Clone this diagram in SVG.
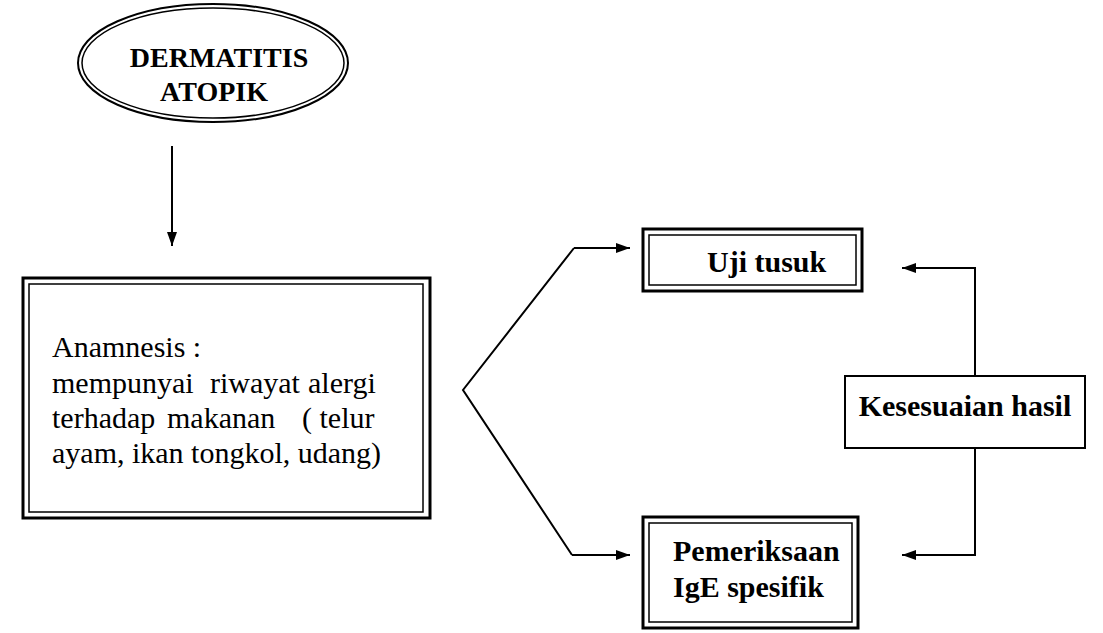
<svg xmlns="http://www.w3.org/2000/svg" width="1103" height="633" viewBox="0 0 1103 633">
<style>
text{font-family:"Liberation Serif","Times New Roman",serif;font-size:30px;fill:#000}
.b{font-weight:bold}
.h{font-size:28px}
.o{fill:none;stroke:#000;stroke-width:3}
.i{fill:none;stroke:#000;stroke-width:1.5}
.c{fill:none;stroke:#000;stroke-width:2}
</style>
<defs>
<marker id="ah" viewBox="0 0 14 10" refX="14" refY="5" markerWidth="14" markerHeight="10" markerUnits="userSpaceOnUse" orient="auto">
<path d="M0,0 L14,5 L0,10 Z" fill="#000"/>
</marker>
</defs>
<rect width="1103" height="633" fill="#fff"/>
<g id="dermatitis">
<ellipse cx="213" cy="63" rx="135" ry="59" class="c"/>
<ellipse cx="213" cy="63" rx="131" ry="55" class="i"/>
<text class="b h" x="219" y="67" text-anchor="middle">DERMATITIS</text>
<text class="b h" x="214" y="101" text-anchor="middle">ATOPIK</text>
</g>
<g id="anamnesis">
<rect x="23" y="278" width="407" height="240" class="o"/>
<rect x="29" y="284" width="394" height="228" class="i"/>
<text x="52" y="357">Anamnesis :</text>
<text y="393"><tspan x="52">mempunyai</tspan><tspan x="210">riwayat</tspan><tspan x="308">alergi</tspan></text>
<text y="428"><tspan x="52">terhadap</tspan><tspan x="167">makanan</tspan><tspan x="302">( telur</tspan></text>
<text x="52" y="463">ayam, ikan tongkol, udang)</text>
</g>
<g id="uji">
<rect x="643" y="229" width="219" height="62" class="o"/>
<rect x="649" y="235" width="207" height="50" class="i"/>
<text class="b" x="707" y="272">Uji tusuk</text>
</g>
<g id="pemeriksaan">
<rect x="643" y="517" width="215" height="111" class="o"/>
<rect x="649" y="523" width="203" height="99" class="i"/>
<text class="b" x="673" y="561">Pemeriksaan</text>
<text class="b" x="673" y="597">IgE spesifik</text>
</g>
<g id="kesesuaian">
<rect x="845" y="376" width="240" height="72" class="c"/>
<text class="b" x="965" y="416" text-anchor="middle">Kesesuaian hasil</text>
</g>
<g id="connectors">
<line x1="172" y1="146" x2="172" y2="246" class="c" marker-end="url(#ah)"/>
<polyline points="572,555 463,390 574,248" class="c"/>
<path d="M574,248 H630" class="c" marker-end="url(#ah)"/>
<path d="M572,555 H630" class="c" marker-end="url(#ah)"/>
<path d="M975,376 V268 H902" class="c" marker-end="url(#ah)"/>
<path d="M975,448 V555 H902" class="c" marker-end="url(#ah)"/>
</g>
</svg>
